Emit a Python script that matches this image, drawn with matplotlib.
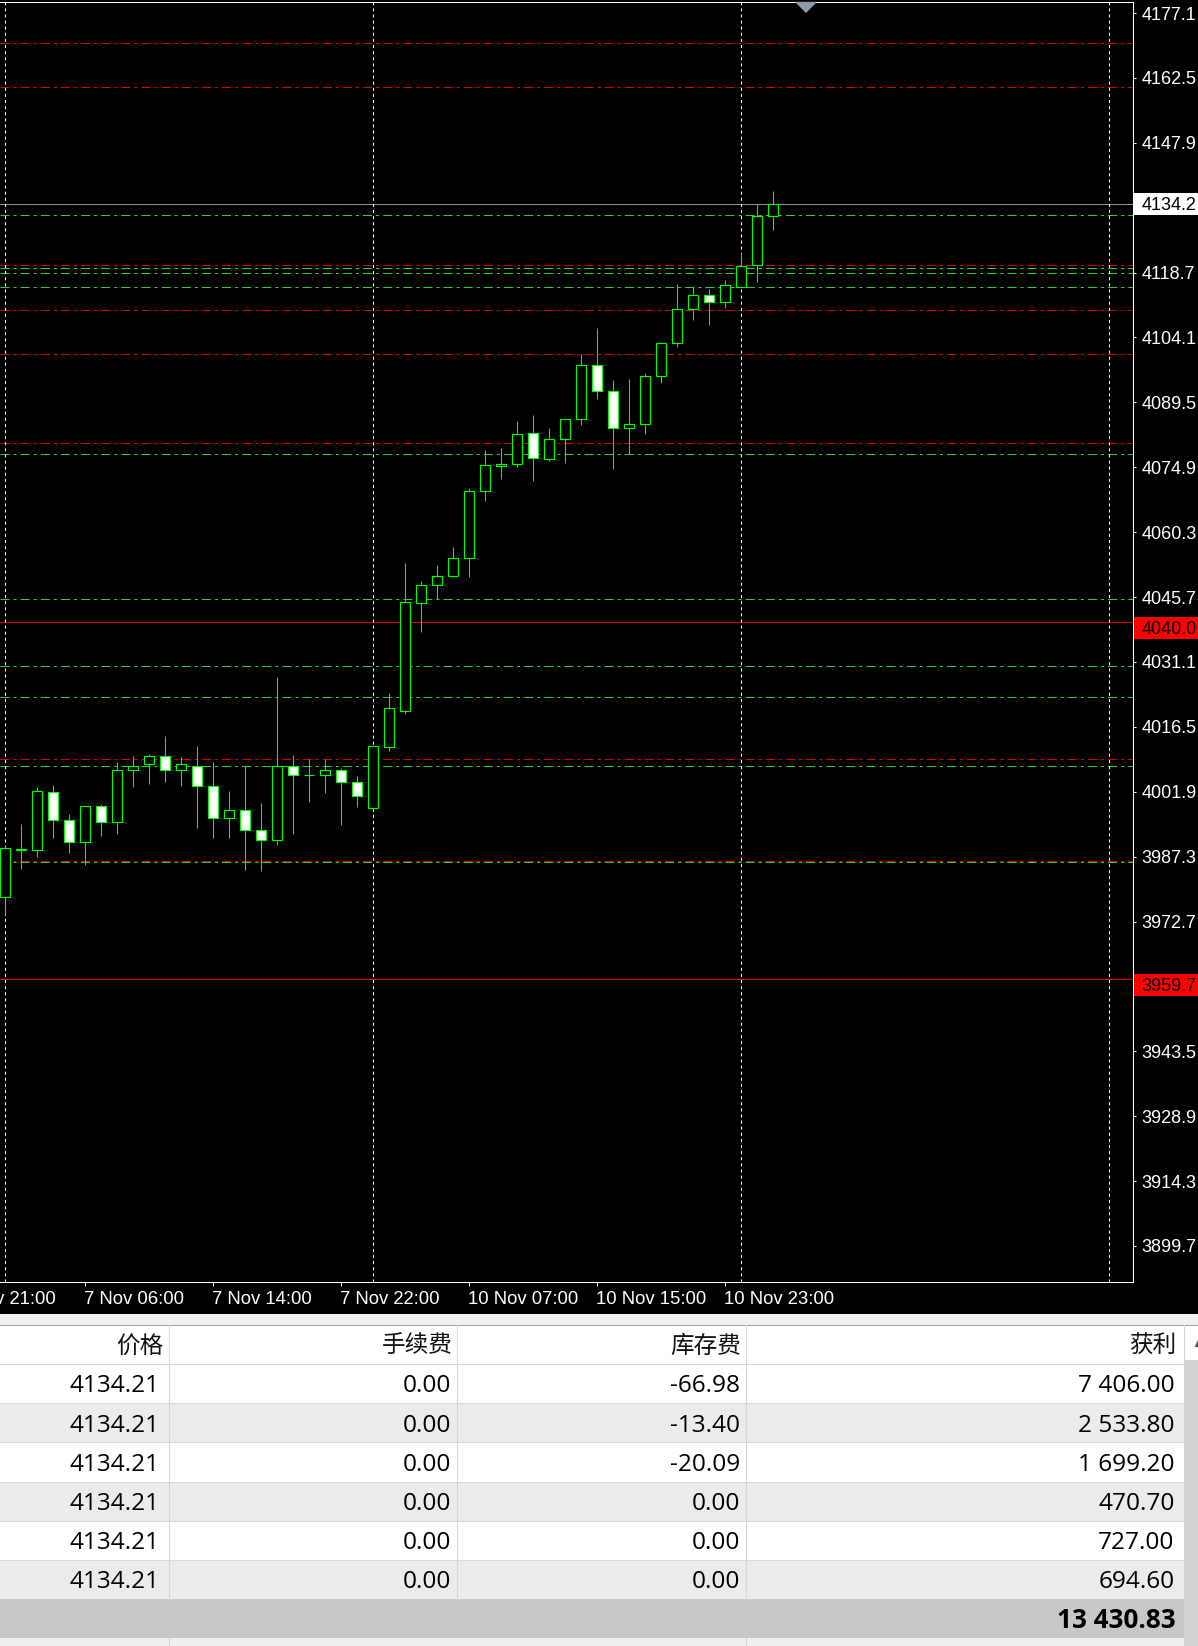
import matplotlib
matplotlib.use("Agg")
import matplotlib.pyplot as plt
from matplotlib.patches import Rectangle
import numpy as np

plt.rcParams['lines.scale_dashes'] = False

# ------------------------------------------------------------------ data
# H1 candles, bar 0 = 7 Nov 01:00
opens = [3978.3, 3989.1, 3988.7, 4001.8, 3995.5, 3990.5, 3998.6, 3995.2, 4006.9, 4008.1,
         4009.9, 4006.7, 4007.8, 4003.1, 3996.1, 3997.7, 3993.2, 3991.0, 4007.6, 4005.6,
         4005.6, 4006.9, 4004.0, 3998.2, 4011.9, 4020.1, 4044.3, 4048.3, 4050.4, 4054.4,
         4069.5, 4075.1, 4075.6, 4082.5, 4076.7, 4081.2, 4085.7, 4097.8, 4092.0, 4083.7,
         4084.6, 4095.4, 4102.8, 4110.4, 4113.6, 4112.0, 4115.4, 4120.3, 4131.4]
highs = [3989.6, 3994.6, 4003.0, 4003.4, 3996.9, 3998.6, 3999.1, 4008.6, 4009.9, 4010.5,
         4014.4, 4009.7, 4012.2, 4008.6, 4002.1, 4007.6, 3999.4, 4027.7, 4010.1, 4009.2,
         4009.2, 4007.2, 4005.4, 4012.3, 4024.1, 4053.4, 4049.3, 4052.9, 4057.0, 4070.2,
         4078.7, 4079.2, 4085.3, 4086.6, 4083.7, 4085.7, 4100.3, 4106.2, 4094.5, 4094.7,
         4096.0, 4103.0, 4116.1, 4115.6, 4114.9, 4117.0, 4123.0, 4134.1, 4137.1]
lows = [3974.5, 3984.6, 3987.3, 3991.6, 3988.2, 3985.5, 3992.0, 3992.5, 4003.0, 4003.7,
        4004.2, 4003.3, 3993.8, 3991.6, 3991.6, 3984.4, 3984.1, 3990.0, 3992.5, 3999.7,
        4001.7, 3994.5, 3998.5, 3998.0, 4011.1, 4019.4, 4037.9, 4045.2, 4050.1, 4050.3,
        4067.2, 4072.3, 4075.0, 4071.7, 4076.2, 4075.9, 4084.5, 4090.3, 4074.4, 4077.8,
        4082.3, 4093.8, 4101.9, 4108.1, 4107.0, 4110.7, 4115.4, 4116.5, 4128.2]
closes = [3989.2, 3988.8, 4002.0, 3995.5, 3990.5, 3998.6, 3995.2, 4006.9, 4007.8, 4009.9,
          4006.7, 4008.1, 4003.1, 3995.9, 3997.7, 3993.4, 3991.0, 4007.8, 4005.6, 4005.6,
          4006.9, 4004.0, 4000.9, 4012.1, 4020.7, 4044.5, 4048.3, 4050.4, 4054.4, 4069.5,
          4075.3, 4075.6, 4082.3, 4076.9, 4081.2, 4085.7, 4097.8, 4092.0, 4083.7, 4084.6,
          4095.4, 4102.8, 4110.4, 4113.6, 4112.0, 4115.8, 4120.1, 4131.4, 4134.21]

red_levels = [4170.3, 4160.4, 4120.3, 4110.2, 4100.3, 4080.3, 4009.2, 3986.3]
green_levels = [4131.6, 4119.8, 4118.7, 4115.4, 4077.9, 4045.2, 4030.2, 4023.3, 4007.7, 3986.1]
red_solid_levels = [4040.0, 3959.7]
current_price = 4134.21

price_ticks = [4177.1, 4162.5, 4147.9, 4118.7, 4104.1, 4089.5, 4074.9, 4060.3, 4045.7,
               4031.1, 4016.5, 4001.9, 3987.3, 3972.7, 3943.5, 3928.9, 3914.3, 3899.7]
time_tick_bars = [-3, 5, 13, 21, 29, 37, 45]
time_tick_labels = ['6 Nov 21:00', '7 Nov 06:00', '7 Nov 14:00', '7 Nov 22:00',
                    '10 Nov 07:00', '10 Nov 15:00', '10 Nov 23:00']
day_separator_bars = [0, 23, 46, 69]
shift_marker_bar = 50

table_headers = ['价格', '手续费', '库存费', '获利']
prices = [4134.21, 4134.21, 4134.21, 4134.21, 4134.21, 4134.21]
commissions = [0.00, 0.00, 0.00, 0.00, 0.00, 0.00]
swaps = [-66.98, -13.40, -20.09, 0.00, 0.00, 0.00]
profits = [7406.00, 2533.80, 1699.20, 470.70, 727.00, 694.60]

# ------------------------------------------------------------------ figure
W, H = 1198, 1646
fig = plt.figure(figsize=(W / 100, H / 100), dpi=100, facecolor='black')

bg = fig.add_axes([0, 0, 1, 1], zorder=0)
bg.set_xlim(0, W)
bg.set_ylim(H, 0)
bg.axis('off')
bg.set_facecolor('black')

ax_top_px, ax_bot_px, ax_right_px = 2.3, 1281.5, 1133
ax = fig.add_axes([0, 1 - ax_bot_px / H, ax_right_px / W, (ax_bot_px - ax_top_px) / H], zorder=2)
ax.set_facecolor('black')
ax.set_xlim(-0.331, 70.48)
ax.set_ylim(3891.71, 4179.51)

GREEN = '#00ff00'
LGREEN = '#33cc33'
RED = '#ff0000'
lw1 = 0.75
dashdot = (6.5, 2.9, 2.2, 2.9)
AXFONT = 'Liberation Sans'
AXSIZE = 13.0

# horizontal levels
for lv in red_levels:
    ax.axhline(lv, color='#e00000', lw=lw1, dashes=dashdot, zorder=1)
for lv in green_levels:
    ax.axhline(lv, color=LGREEN, lw=lw1, dashes=dashdot, zorder=1.1)
for lv in red_solid_levels:
    ax.axhline(lv, color='#e00000', lw=lw1, zorder=1.2)
ax.axhline(current_price, color='#8a96a4', lw=lw1, zorder=1.3)

# day separators
for b in day_separator_bars:
    ax.axvline(b, color='white', lw=lw1, dashes=(2.2, 2.2), zorder=1.4)

# candles
x = np.arange(len(opens))
o = np.array(opens)
c = np.array(closes)
up = c > o
ax.vlines(x, lows, highs, color=GREEN, lw=lw1, zorder=3)
ax.bar(x, c - o, bottom=o, width=0.62,
       color=['black' if u else 'white' for u in up],
       edgecolor=GREEN, linewidth=0.85, zorder=4)

# shift marker
ax.plot([shift_marker_bar], [ax.get_ylim()[1]], marker=[(-1, 0), (1, 0), (0, -1)],
        ms=14.4, color='#8d99a6', mec='#8d99a6', clip_on=False, zorder=5)

# spines
for s in ['top', 'right', 'bottom']:
    ax.spines[s].set_color('white')
    ax.spines[s].set_linewidth(lw1)
ax.spines['left'].set_visible(False)

# y ticks (right)
ax.yaxis.tick_right()
ax.set_yticks(price_ticks)
ax.set_yticklabels([f'{v:.1f}' for v in price_ticks], fontfamily=AXFONT)
ax.tick_params(axis='y', colors='white', length=2.2, width=lw1, pad=4.0, labelsize=AXSIZE)

# x ticks
xmin, xmax = ax.get_xlim()
ax.set_xticks([b for b in time_tick_bars if xmin <= b <= xmax])
ax.set_xticklabels([])
ax.tick_params(axis='x', colors='white', length=3, width=lw1, labelbottom=False)
for b, lbl in zip(time_tick_bars, time_tick_labels):
    ax.annotate(lbl, xy=(b, 0), xycoords=('data', 'axes fraction'),
                xytext=(-1.0, -16.0), textcoords='offset points',
                ha='left', va='baseline', color='white', fontsize=13.3,
                fontfamily=AXFONT, annotation_clip=False)

# price boxes on right axis
def ypix(p):
    return H - ax.transData.transform((0, p))[1]

box_left = ax_right_px + 1
def price_box(p, face, shift_px):
    yc = ypix(p) + shift_px
    bg.add_patch(Rectangle((box_left, yc - 11), W - box_left + 5, 22,
                           facecolor=face, edgecolor='none', zorder=5))
    bg.text(1141.5, yc, f'{p:.1f}', ha='left', va='center_baseline', color='black',
            fontsize=AXSIZE, fontfamily=AXFONT, zorder=6)

price_box(current_price, 'white', 0)
for lv in red_solid_levels:
    price_box(lv, RED, 5.5)

# ------------------------------------------------------------------ table
def fmt(v, sep=True):
    s = f'{v:,.2f}' if sep else f'{v:.2f}'
    return s.replace(',', ' ')

bg.add_patch(Rectangle((0, 1314), W + 5, H - 1314 + 5, facecolor='#f0f0f0', edgecolor='none', zorder=0.5))
bg.plot([0, W], [1324.5, 1324.5], color='#a0a0a0', lw=lw1, zorder=2)

seps = [169, 457, 745.5, 1184]
text_right = [160, 451.5, 740, 1174.5]
head_right = [163, 452.5, 741.5, 1176.5]
head_top, head_bot = 1325, 1364
row_h = 39.2

bg.add_patch(Rectangle((0, head_top), W + 5, head_bot - head_top, facecolor='white',
                       edgecolor='none', zorder=1))
for sx in seps:
    bg.plot([sx, sx], [head_top, head_bot], color='#d8d8d8', lw=lw1, zorder=2)
for hx, hl in zip(head_right, table_headers):
    bg.text(hx, 1346, hl, ha='right', va='center', fontsize=17,
            fontfamily=['Noto Sans CJK SC'], color='#111111', zorder=3)

cols = [prices, commissions, swaps, profits]
use_sep = [False, True, True, True]
nrows = len(prices)
for r in range(nrows):
    y0 = head_bot + r * row_h
    face = 'white' if r % 2 == 0 else '#ebebeb'
    bg.add_patch(Rectangle((0, y0), seps[-1], row_h, facecolor=face, edgecolor='none', zorder=1))
    bg.plot([0, seps[-1]], [y0, y0], color='#d8d8d8', lw=lw1, zorder=2)
    for sx in seps[:3]:
        bg.plot([sx, sx], [y0, y0 + row_h], color='#d4d4d4', lw=lw1, zorder=2)
    yc = y0 + row_h / 2
    for ci in range(4):
        bg.text(text_right[ci], yc + 8.8, fmt(cols[ci][r], use_sep[ci]), ha='right', va='baseline',
                fontsize=17.6, fontfamily='Open Sans', color='black', zorder=3)

total = sum(profits) + sum(swaps) + sum(commissions)
ty0 = head_bot + nrows * row_h
bg.add_patch(Rectangle((0, ty0), seps[-1], row_h, facecolor='#c8c8c8', edgecolor='none', zorder=1))
bg.text(1176, ty0 + row_h / 2 + 8.8, fmt(total), ha='right', va='baseline', fontsize=18.8,
        fontweight='bold', fontfamily='Open Sans', color='black', zorder=3)

ly0 = ty0 + row_h
bg.add_patch(Rectangle((0, ly0), seps[-1], H - ly0 + 5, facecolor='#efefef', edgecolor='none', zorder=1))
for sx in [seps[0], seps[2]]:
    bg.plot([sx, sx], [ly0, H + 5], color='#d4d4d4', lw=lw1, zorder=2)

# scrollbar
bg.add_patch(Rectangle((seps[-1], head_bot - 4), W - seps[-1] + 5, H, facecolor='#d2d2d2',
                       edgecolor='none', zorder=1.5))
bg.plot([1197.5], [1343], marker='^', ms=5, color='#555555', zorder=3, clip_on=False)

fig.savefig('out.png', dpi=100, facecolor='black')
